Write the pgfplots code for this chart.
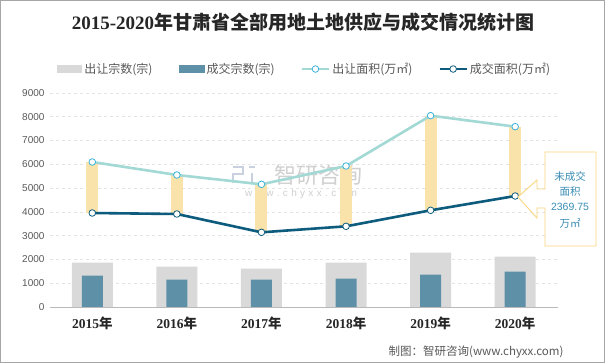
\documentclass[border=0pt]{standalone}
\usepackage{pgfplots}
\pgfplotsset{compat=1.18}
\usepackage{fontspec}
\setmainfont{Liberation Sans}
\newfontfamily\cjk{Noto Sans CJK SC}
\newfontfamily\tnr{Liberation Serif}
\definecolor{bordergray}{HTML}{A6A6A6}
\definecolor{titlec}{HTML}{262626}
\definecolor{textc}{HTML}{595959}
\definecolor{greybar}{HTML}{D9D9D9}
\definecolor{bluebar}{HTML}{5E90A8}
\definecolor{supline}{HTML}{A3D9D5}
\definecolor{supmark}{HTML}{3AB2DC}
\definecolor{dealline}{HTML}{0D5C7D}
\definecolor{gapc}{HTML}{F9E3AA}
\definecolor{callc}{HTML}{F9D77E}
\definecolor{calltext}{HTML}{3B8DB5}
\definecolor{gridc}{HTML}{E4E4E4}
\definecolor{wmc}{HTML}{D0D0D0}
\definecolor{wmlogo}{HTML}{C9D1E0}
\newcommand{\yr}[1]{{\tnr\bfseries #1}{\cjk\bfseries 年}}
\begin{document}
\begin{tikzpicture}
\useasboundingbox (0pt,0pt) rectangle (605pt,363pt);
\fill[white] (0pt,0pt) rectangle (605pt,363pt);
\draw[bordergray, line width=1pt] (0.5pt,0.5pt) rectangle (604.5pt,362.5pt);
\node[text=titlec] at (303pt,341pt) {\fontsize{19}{22}\selectfont{\tnr\bfseries 2015-2020}{\cjk\bfseries 年甘肃省全部用地土地供应与成交情况统计图}};
% watermark
\draw[wmlogo, line width=2.5pt] (233pt,196pt) -- (243pt,196pt) -- (243pt,189pt) -- (233pt,189pt) -- (233pt,180pt);
\draw[wmlogo, line width=2.5pt] (249pt,196pt) -- (255pt,196pt) (252pt,190pt) -- (252pt,179pt);
\node[text=wmc] at (318pt,188pt) {\fontsize{22}{24}\selectfont\cjk 智研咨询};
\node[text=wmc] at (301pt,169pt) {\fontsize{10}{12}\selectfont w\,\,w\,\,w\,\,.\,\,c\,\,h\,\,y\,\,x\,\,x\,\,.\,\,c\,\,o\,\,m};
\begin{axis}[
  at={(50pt,56pt)}, anchor=south west, scale only axis,
  width=507.5pt, height=214pt,
  xmin=-0.5, xmax=5.5, ymin=0, ymax=9000,
  clip=false,
  axis x line*=bottom, axis y line*=left,
  x axis line style={draw=gray!55, line width=0.8pt},
  y axis line style={draw=none},
  major tick length=0pt,
  xtick={0,1,2,3,4,5},
  xticklabels={\yr{2015},\yr{2016},\yr{2017},\yr{2018},\yr{2019},\yr{2020}},
  xticklabel style={font=\fontsize{13.5}{15}\selectfont, text=titlec, yshift=-6pt},
  ytick={0,1000,...,9000},
  scaled y ticks=false,
  yticklabel style={/pgf/number format/assume math mode=true, /pgf/number format/1000 sep={}, font=\fontsize{10}{12}\selectfont, text=textc, xshift=-2pt},
  ymajorgrids, grid style={dashed, gridc, line width=0.6pt},
  legend columns=4,
  legend style={at={(0.502,1.112)}, anchor=center, draw=none, fill=none,
    font=\cjk\fontsize{12}{14}\selectfont, text=textc,
    /tikz/every even column/.append style={column sep=24pt}},
  legend cell align=left,
]
\addplot[ybar, bar width=41pt, bar shift=0pt, fill=greybar, draw=none,
  legend image code/.code={\fill[greybar] (0pt,-4pt) rectangle (25pt,4pt);}]
  coordinates {(0,1865) (1,1696) (2,1612) (3,1865) (4,2285) (5,2117)};
\addlegendentry{出让宗数(宗)}
\addplot[ybar, bar width=21pt, bar shift=0pt, fill=bluebar, draw=none,
  legend image code/.code={\fill[bluebar] (0pt,-4pt) rectangle (26pt,4pt);}]
  coordinates {(0,1318) (1,1150) (2,1150) (3,1192) (4,1360) (5,1486)};
\addlegendentry{成交宗数(宗)}
\addplot[gapc, line width=12pt, forget plot, unbounded coords=jump]
  coordinates {(0,3953) (0,6098) (0.5,nan) (1,3911) (1,5552) (1.5,nan)
               (2,3140) (2,5159) (2.5,nan) (3,3393) (3,5930) (3.5,nan)
               (4,4066) (4,8047) (4.5,nan) (5,4668) (5,7584)};
\addplot[supline, line width=2.6pt, mark=*, mark size=3.3pt,
  mark options={fill=white, draw=supmark, line width=0.8pt},
  legend image code/.code={\draw[supline, line width=2.6pt] (0pt,0pt) -- (27pt,0pt);
     \draw[fill=white, draw=supmark, line width=0.8pt] (13.5pt,0pt) circle (3.3pt);}]
  coordinates {(0,6098) (1,5552) (2,5159) (3,5930) (4,8047) (5,7584)};
\addlegendentry{出让面积(万㎡)}
\addplot[dealline, line width=2.6pt, mark=*, mark size=3.3pt,
  mark options={fill=white, draw=dealline, line width=0.8pt},
  legend image code/.code={\draw[dealline, line width=2.6pt] (0pt,0pt) -- (27pt,0pt);
     \draw[fill=white, draw=dealline, line width=0.8pt] (13.5pt,0pt) circle (3.3pt);}]
  coordinates {(0,3953) (1,3911) (2,3140) (3,3393) (4,4066) (5,4668)};
\addlegendentry{成交面积(万㎡)}
\end{axis}
% callout
\draw[callc, line width=0.9pt, fill=white] (545pt,211pt) -- (596pt,211pt) -- (596pt,117pt) -- (545pt,117pt) -- (545pt,155pt) -- (537pt,155pt) -- (537pt,145pt) -- (518pt,166pt) -- (537pt,183pt) -- (537pt,174pt) -- (545pt,174pt) -- cycle;
\node[text=calltext] at (570pt,186pt) {\fontsize{10.5}{12}\selectfont\cjk 未成交};
\node[text=calltext] at (570pt,171pt) {\fontsize{10.5}{12}\selectfont\cjk 面积};
\node[text=calltext] at (570pt,156pt) {\fontsize{10.5}{12}\selectfont 2369.75};
\node[text=calltext] at (570pt,140pt) {\fontsize{10.5}{12}\selectfont\cjk 万㎡};
\node[text=textc] at (476pt,11pt) {\fontsize{11.5}{13}\selectfont\cjk 制图：智研咨询(www.chyxx.com)};
\end{tikzpicture}
\end{document}
